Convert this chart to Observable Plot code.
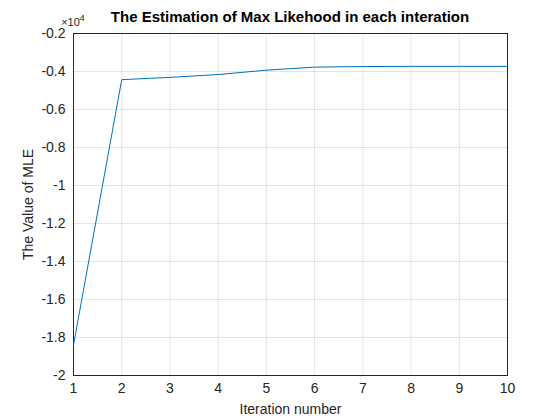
<!DOCTYPE html>
<html>
<head>
<meta charset="UTF-8">
<script src="https://cdn.jsdelivr.net/npm/d3@7"></script>
<script src="https://cdn.jsdelivr.net/npm/@observablehq/plot@0.6"></script>
<style>body{margin:0;background:#fff}</style>
</head>
<body>
<div id="chart"></div>
<script>
const iterations = [1, 2, 3, 4, 5, 6, 7, 8, 9, 10];
const mle = [-18400, -4430, -4310, -4160, -3930, -3770, -3740, -3730, -3730, -3730];
const yTicks = [-20000, -18000, -16000, -14000, -12000, -10000, -8000, -6000, -4000, -2000];

const data = iterations.map((it, i) => ({it, v: mle[i]}));

const plot = Plot.plot({
  width: 560, height: 420,
  marginLeft: 73, marginRight: 53, marginTop: 33, marginBottom: 45,
  style: {fontFamily: "Liberation Sans, Arial, sans-serif", fontSize: "12px", background: "#fff"},
  x: {domain: [1, 10], ticks: iterations, grid: true, label: "Iteration number", labelArrow: "none", labelAnchor: "center", labelOffset: 38, tickSize: 0, tickPadding: 8},
  y: {domain: [-20000, -2000], ticks: yTicks, grid: true, label: "The Value of MLE", labelArrow: "none", labelAnchor: "center", labelOffset: 50, tickSize: 0, tickPadding: 8, tickFormat: d => String(+(d / 1e4).toFixed(1))},
  marks: [
    Plot.frame({stroke: "#262626"}),
    Plot.line(data, {x: "it", y: "v", stroke: "#0072bd", strokeWidth: 1})
  ]
});
d3.select(plot).selectAll("[aria-label=grid] line").attr("stroke", "#dcdcdc").attr("stroke-opacity", 1);
d3.select(plot).selectAll("[aria-label$=label] text").attr("font-size", 14).attr("fill", "#262626");
const svg = d3.select(plot);
svg.append("text").attr("x", 290).attr("y", 22).attr("text-anchor", "middle")
  .attr("font-weight", "bold").attr("font-size", 15).attr("fill", "#000")
  .text("The Estimation of Max Likehood in each interation");
const t = svg.append("text").attr("x", 73).attr("y", 26).attr("font-size", 11).attr("fill", "#262626");
t.append("tspan").text("×10");
t.append("tspan").attr("dy", -5).attr("font-size", 9).text("4");
document.getElementById("chart").append(plot);
</script>
</body>
</html>
